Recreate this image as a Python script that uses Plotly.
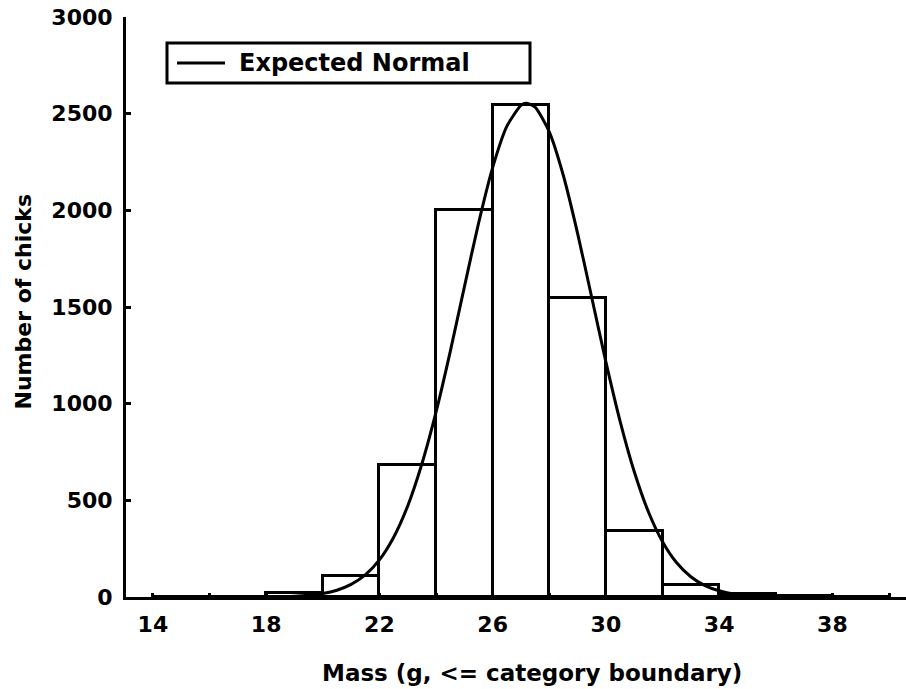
import plotly.graph_objects as go

# Histogram: category upper boundaries (g) and counts
bin_upper = [16, 18, 20, 22, 24, 26, 28, 30, 32, 34, 36, 38, 40]
counts = [0, 0, 20, 110, 685, 2000, 2545, 1545, 340, 60, 15, 4, 2]
bin_width = 2

# Expected Normal curve
curve_x = [16, 17, 18, 19, 19.5, 20, 20.5, 21, 21.5, 22, 22.5, 23, 23.5, 24, 24.5,
           25, 25.5, 26, 26.5, 27, 27.2, 27.5, 28, 28.5, 29, 29.5, 30, 30.5, 31,
           31.5, 32, 32.5, 33, 33.5, 34, 34.5, 35, 35.5, 36, 37, 38, 40]
curve_y = [0, 0, 1, 4, 9, 18, 35, 65, 114, 192, 308, 471, 688, 956, 1268,
           1603, 1932, 2221, 2434, 2543, 2554, 2534, 2406, 2179, 1881, 1549, 1216, 910, 649,
           441, 286, 177, 105, 59, 32, 16, 8, 4, 2, 0, 0, 0]

x_ticks = [14, 18, 22, 26, 30, 34, 38]
y_ticks = [0, 500, 1000, 1500, 2000, 2500, 3000]
legend_label = "Expected Normal"

FONT = "DejaVu Sans"

# plot area in pixels (for placing titles / legend)
L, R, T, B = 126, 906, 17, 597
def px(x):
    return (x - L) / (R - L)
def py(y):
    return (B - y) / (B - T)

fig = go.Figure()
fig.add_trace(go.Bar(
    x=bin_upper, y=counts, width=bin_width, offset=-bin_width,
    marker=dict(color="white", line=dict(color="black", width=3)),
    showlegend=False, hoverinfo="x+y",
))
fig.add_trace(go.Scatter(
    x=curve_x, y=curve_y, mode="lines", name=legend_label, showlegend=False,
    line=dict(color="black", width=3, shape="spline", smoothing=0.6),
))

fig.update_layout(
    width=906, height=689,
    margin=dict(l=L, r=906 - R, t=T, b=689 - B),
    plot_bgcolor="white", paper_bgcolor="white",
    font=dict(family=FONT, color="black"),
    bargap=0,
    xaxis=dict(
        range=[13.05, 40.6], showgrid=False, zeroline=False,
        showline=True, linecolor="black", linewidth=3,
        tickvals=x_ticks, ticktext=[f"<b>{v}</b>" for v in x_ticks],
        ticks="inside", ticklen=4, tickwidth=3, tickcolor="black",
        minor=dict(dtick=2, tick0=14, ticks="inside", ticklen=4, tickwidth=3, tickcolor="black"),
        tickfont=dict(family=FONT, size=22, color="black"),
        ticklabelstandoff=6,
    ),
    yaxis=dict(
        range=[0, 3000], showgrid=False, zeroline=False,
        showline=True, linecolor="black", linewidth=3,
        tickvals=y_ticks, ticktext=[f"<b>{v}</b>" for v in y_ticks],
        ticks="inside", ticklen=5, tickwidth=3, tickcolor="black",
        tickfont=dict(family=FONT, size=22, color="black"),
        ticklabelstandoff=6,
    ),
    shapes=[
        dict(type="rect", xref="paper", yref="paper",
             x0=px(167), x1=px(530), y0=py(83), y1=py(43),
             line=dict(color="black", width=3), fillcolor="white", layer="above"),
        dict(type="line", xref="paper", yref="paper",
             x0=px(177), x1=px(225), y0=py(63), y1=py(63),
             line=dict(color="black", width=3), layer="above"),
    ],
    annotations=[
        dict(text=f"<b>{legend_label}</b>", xref="paper", yref="paper",
             x=px(237), y=py(63), xanchor="left", yanchor="middle",
             showarrow=False, font=dict(family=FONT, size=24, color="black")),
        dict(text="<b>Mass (g, <= category boundary)</b>", xref="paper", yref="paper",
             x=px(532), y=py(673), xanchor="center", yanchor="middle",
             showarrow=False, font=dict(family=FONT, size=23, color="black")),
        dict(text="<b>Number of chicks</b>", xref="paper", yref="paper",
             x=px(23), y=py(301.5), xanchor="center", yanchor="middle",
             textangle=-90, showarrow=False, font=dict(family=FONT, size=22, color="black")),
    ],
)

fig.write_html("out.html")
